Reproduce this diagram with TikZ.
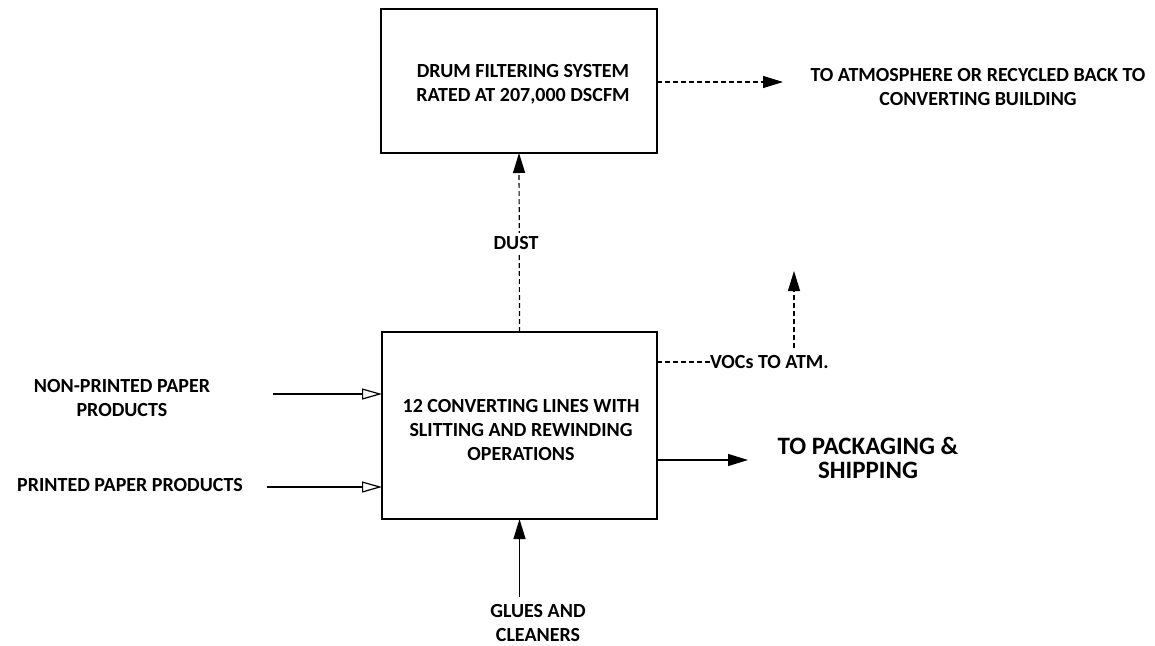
\documentclass[tikz,border=0pt]{standalone}
\usepackage{fontspec}
\setmainfont{Carlito}
\usetikzlibrary{arrows.meta}
\begin{document}
\begin{tikzpicture}[x=1pt,y=-1pt,
  every node/.style={font=\bfseries\fontsize{20}{24}\selectfont, align=center, inner sep=0pt, outer sep=0pt},
  box/.style={draw, line width=1.4pt},
  flow/.style={line width=1.2pt},
  dflow/.style={line width=1.2pt, dash pattern=on 5pt off 3pt},
  fhead/.style={-{Triangle[length=20pt,width=12pt]}},
  ohead/.style={-{Triangle[open,length=20pt,width=11pt,line width=1.2pt,fill=white]}}
]
\useasboundingbox (0,0) rectangle (1155,645);
% boxes
\node[box, minimum width=276pt, minimum height=144pt] (filter) at (519,81) {};
\node (filtertxt) at (523,84) {DRUM FILTERING SYSTEM\\RATED AT 207,000 DSCFM};
\node[box, minimum width=275pt, minimum height=187pt] (conv) at (519.5,425.5) {};
\node (convtxt) at (521,430) {12 CONVERTING LINES WITH\\SLITTING AND REWINDING\\OPERATIONS};
% labels
\node (atm) at (978,87) {TO ATMOSPHERE OR RECYCLED BACK TO\\CONVERTING BUILDING};
\node (nonprinted) at (122,398) {NON-PRINTED PAPER\\PRODUCTS};
\node (printed) at (130,485) {PRINTED PAPER PRODUCTS};
\node (pack) at (868,458) {\fontsize{25}{28}\selectfont TO PACKAGING \&\\\fontsize{25}{28}\selectfont SHIPPING};
\node (glues) at (538,623) {GLUES AND\\CLEANERS};
\node[anchor=west] (voc) at (710,362) {VOCs TO ATM.};
% coordinates
\coordinate (atmend) at (783,82);
\coordinate (npstart) at (273,394);
\coordinate (pstart) at (267,487);
\coordinate (packend) at (748,460);
\coordinate (gluestart) at (519.5,597);
\coordinate (vocbot) at (794,348);
\coordinate (voctop) at (794,271);
% connectors
\draw[dflow, fhead] (filter.east |- atmend) -- (atmend);
\draw[dflow, fhead] (conv.north) -- (filter.south);
\node[fill=white, inner ysep=3pt, inner xsep=2pt] (dust) at (516,243) {DUST};
\draw[dflow] (conv.east |- voc.west) -- (voc.west);
\draw[dflow, fhead] (vocbot) -- (voctop);
\draw[flow, ohead] (npstart) -- (conv.west |- npstart);
\draw[flow, ohead] (pstart) -- (conv.west |- pstart);
\draw[flow, fhead] (conv.east |- packend) -- (packend);
\draw[flow, fhead] (gluestart) -- (conv.south);
\end{tikzpicture}
\end{document}
